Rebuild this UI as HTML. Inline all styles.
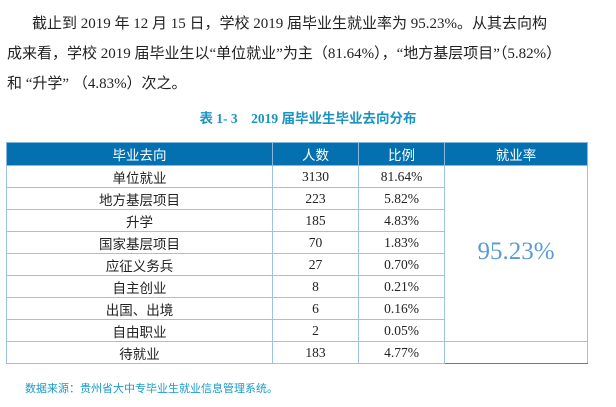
<!DOCTYPE html>
<html><head><meta charset="utf-8"><style>
body{margin:0;width:616px;height:407px;background:#fff;font-family:"Liberation Serif","Noto Sans CJK SC",serif;color:#222;position:relative;overflow:hidden}
.p{position:absolute;left:7px;font-size:15px;white-space:nowrap}
.t{position:absolute;left:0;width:616px;text-align:center;top:107px;font-size:13.5px;font-weight:bold;color:#1a93c0}
table{position:absolute;left:6px;top:142px;border-collapse:collapse;width:582px;font-size:13.5px}
td,th{border:1px solid #9cc2e5;text-align:center;padding:0;height:21px}
th{background:#0570b0;color:#fff;font-weight:normal;height:22px;font-family:"Liberation Sans","Noto Sans CJK SC",sans-serif;border-color:#8ab8dc}
td.c{font-family:"Liberation Sans","Noto Sans CJK SC",sans-serif}
.big{font-size:25px;color:#5b9bd5;vertical-align:top;padding-top:72px}
.f{position:absolute;left:25px;top:380px;font-size:11px;color:#1a9ac8;font-family:"Liberation Sans","Noto Sans CJK SC",sans-serif}
</style></head><body>
<div class="p" style="top:12px;left:32px">截止到 2019 年 12 月 15 日，学校 2019 届毕业生就业率为 95.23%。从其去向构</div>
<div class="p" style="top:42px">成来看，学校 2019 届毕业生以“单位就业”为主（81.64%），“地方基层项目”（5.82%）</div>
<div class="p" style="top:72px">和 “升学” （4.83%）次之。</div>
<div class="t">表 1- 3　2019 届毕业生毕业去向分布</div>
<table>
<tr><th style="width:265px">毕业去向</th><th style="width:85px">人数</th><th style="width:85px">比例</th><th>就业率</th></tr>
<tr><td class="c">单位就业</td><td>3130</td><td>81.64%</td><td rowspan="8" class="big">95.23%</td></tr>
<tr><td class="c">地方基层项目</td><td>223</td><td>5.82%</td></tr>
<tr><td class="c">升学</td><td>185</td><td>4.83%</td></tr>
<tr><td class="c">国家基层项目</td><td>70</td><td>1.83%</td></tr>
<tr><td class="c">应征义务兵</td><td>27</td><td>0.70%</td></tr>
<tr><td class="c">自主创业</td><td>8</td><td>0.21%</td></tr>
<tr><td class="c">出国、出境</td><td>6</td><td>0.16%</td></tr>
<tr><td class="c">自由职业</td><td>2</td><td>0.05%</td></tr>
<tr><td class="c">待就业</td><td>183</td><td>4.77%</td><td style="border-top:1px solid #777;border-bottom:1px solid #777"></td></tr>
</table>
<div class="f">数据来源：贵州省大中专毕业生就业信息管理系统。</div>
</body></html>
